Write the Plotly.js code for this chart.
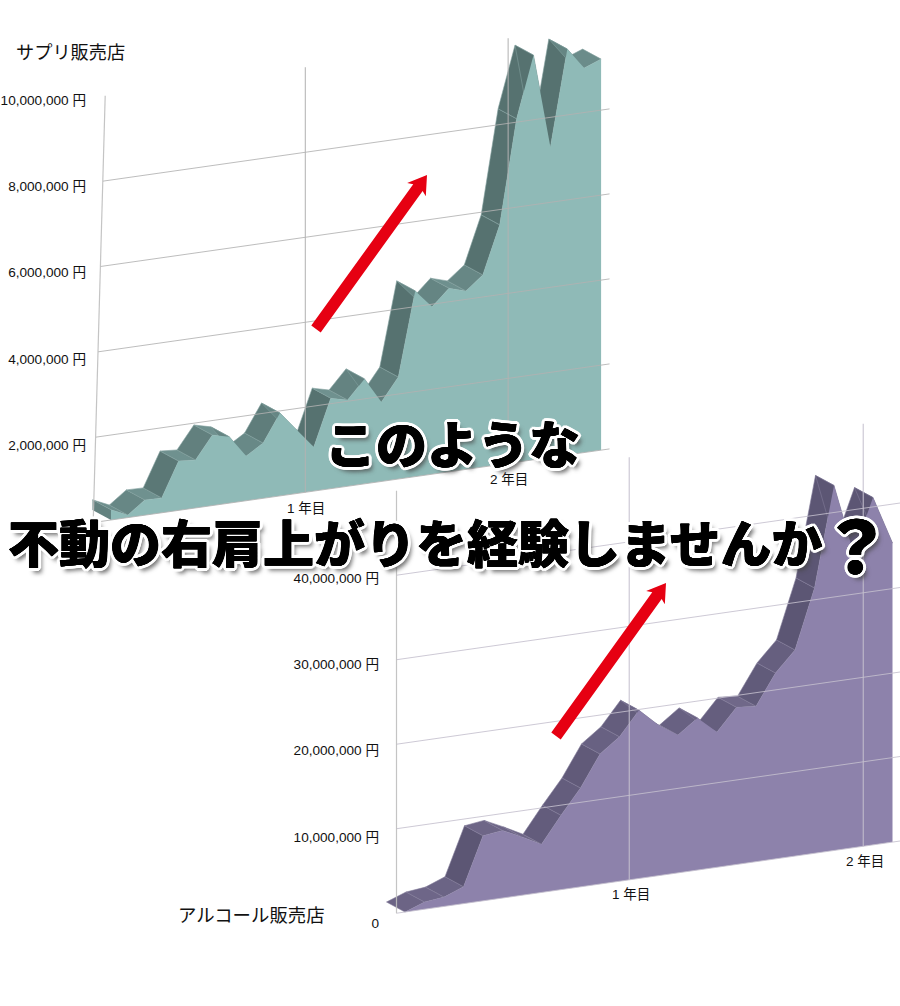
<!DOCTYPE html>
<html><head><meta charset="utf-8">
<script src="https://cdn.plot.ly/plotly-3.0.1.min.js"></script>
<style>html,body{margin:0;padding:0;background:#fff}#c{width:900px;height:1006px}</style>
</head><body><div id="c"></div>
<script>
// DATA
var supplementSales = [240000,60000,360000,350000,1160000,1130000,1660000,1560000,1050000,1300000,1950000,1490000,1040000,2130000,2030000,2470000,1870000,2400000,4370000,3940000,4320000,4200000,4520000,5640000,8080000,9520000,7300000,9550000,9050000,9200000];
var alcoholSales = [0,850000,1100000,2000000,7700000,8000000,6900000,5700000,8800000,11700000,15400000,17100000,19900000,17800000,16300000,18000000,16000000,18600000,18400000,22000000,24400000,31400000,43200000,34900000,41100000,35400000];
var supplementTicks = [2000000,4000000,6000000,8000000,10000000];
var alcoholTicks = [0,10000000,20000000,30000000,40000000];
var supplementGrid = [0,2000000,4000000,6000000,8000000];
var alcoholGrid = [0,10000000,20000000,30000000,40000000];
var yearPositions = [11.5,23.5];
var yearLabels = ['1 年目','2 年目'];
var supplementTitle = 'サプリ販売店';
var alcoholTitle = 'アルコール販売店';
var headlineTop = 'このような';
var headlineMain = '不動の右肩上がりを経験しませんか';
var headlineMark = '？';

var W=900,H=1006;
var traces=[],annos=[],shapes=[];
var jpFont='"Liberation Sans","Noto Sans CJK JP",sans-serif';

function mix(a,b,t){return 'rgb('+a.map(function(c,k){return Math.round(c+(b[k]-c)*t)}).join(',')+')';}

function buildChart(o){
  var p=o.pxPerYen, skew=o.slope/p, di=-18.5/o.dx, dY=10/p;
  var xa=o.xa, ya=o.ya;
  function Y(i,v){return v+skew*i;}
  function add(t){t.xaxis=xa;t.yaxis=ya;t.hoverinfo='skip';t.showlegend=false;traces.push(t);}
  var v=o.values,n=v.length;
  // left side face
  add({x:[di,0,0,di,di],y:[Y(0,v[0])+dY,Y(0,v[0]),Y(0,0),Y(0,0)+dY,Y(0,v[0])+dY],
       mode:'lines',fill:'toself',fillcolor:mix(o.flat,o.steep,.5),line:{width:0}});
  // depth bands
  for(var i=0;i<n-1;i++){
    var a=Y(i,v[i]),b=Y(i+1,v[i+1]);
    var pxRise=Math.abs(b-a)*p, t=Math.min(1,pxRise/45);
    add({x:[i,i+1,i+1+di,i+di,i],y:[a,b,b+dY,a+dY,a],mode:'lines',fill:'toself',
         fillcolor:mix(o.flat,o.steep,t),line:{width:.6,color:mix(o.flat,[255,255,255],.12)}});
  }
  // front face
  var fx=[],fy=[];
  for(i=0;i<n;i++){fx.push(i);fy.push(Y(i,v[i]));}
  fx.push(n-1,0,0);fy.push(Y(n-1,0),Y(0,0),Y(0,v[0]));
  add({x:fx,y:fy,mode:'lines',fill:'toself',fillcolor:o.front,line:{width:0}});
  // horizontal grid
  o.grid.forEach(function(g){
    var s=o.leftI(g);
    add({x:[s,o.endI],y:[Y(s,g),Y(o.endI,g)],mode:'lines',line:{width:1,color:o.gridCol}});
  });
  // left axis and year lines
  add({x:[o.leftI(0),o.leftI(o.top)],y:[Y(o.leftI(0),0),Y(o.leftI(o.top),o.top)],mode:'lines',line:{width:1.2,color:'rgba(190,190,190,.9)'}});
  yearPositions.forEach(function(q,k){
    add({x:[q,q],y:[Y(q,0),Y(q,o.top)],mode:'lines',line:{width:1.2,color:o.gridCol}});
    annos.push({xref:xa,yref:ya,x:q+o.labelDx,y:Y(q,0),yshift:-o.labelShift,text:yearLabels[k],showarrow:false,
      font:{family:jpFont,size:13.5,color:'#111'},xanchor:'center',yanchor:'middle'});
  });
  // tick label carrier
  traces.push({x:o.ticks.map(function(){return 0}),y:o.ticks,xaxis:xa,yaxis:o.ya3,mode:'lines',line:{width:0},hoverinfo:'skip',showlegend:false});
}

var ctx=[
 {values:supplementSales,ticks:supplementTicks,grid:supplementGrid,x0:111,dx:16.9,y0:520,slope:2.41,pxPerYen:42.5/1e6,L:87,
  front:'#8fbab7',flat:[112,146,144],steep:[86,114,112],gridCol:'rgba(178,178,178,.85)',endI:29.5,top:1e7,
  leftI:function(v){return (93.2+1.2*v/1e6-111)/16.9;},xa:'x',ya:'y',ya3:'y3',labelDx:0.05,labelShift:16,
  labTop:[1e7,100,2e6,445]},
 {values:alcoholSales,ticks:alcoholTicks,grid:alcoholGrid,x0:405,dx:19.5,y0:912,slope:2.796,pxPerYen:8.45/1e6,L:380,
  front:'#8d82ab',flat:[112,104,138],steep:[92,86,116],gridCol:'rgba(196,192,206,.85)',endI:25.4,top:5e7,
  leftI:function(v){return (396.5-405)/19.5;},xa:'x2',ya:'y2',ya3:'y4',labelDx:0.1,labelShift:15,
  labTop:[4e7,578,0,923]}
];
ctx.forEach(buildChart);

var layout={width:W,height:H,margin:{l:0,r:0,t:0,b:0},paper_bgcolor:'#fff',plot_bgcolor:'rgba(0,0,0,0)',showlegend:false,hovermode:false};
ctx.forEach(function(o,k){
  var sx=k?'xaxis2':'xaxis',sy=k?'yaxis2':'yaxis',sl=k?'yaxis4':'yaxis3';
  layout[sx]={visible:false,domain:[o.L/W,1],range:[(o.L-o.x0)/o.dx,(W-o.x0)/o.dx],anchor:o.ya};
  layout[sy]={visible:false,domain:[0,1],range:[(o.y0-H)/o.pxPerYen,o.y0/o.pxPerYen],anchor:o.xa};
  var lt=o.labTop, q=(lt[3]-lt[1])/(lt[0]-lt[2]);
  var z=lt[1]+lt[0]*q;
  layout[sl]={overlaying:o.ya,anchor:o.xa,side:'left',showgrid:false,zeroline:false,showline:false,ticks:'',
    range:[(z-H)/q,z/q],tickmode:'array',tickvals:o.ticks,
    ticktext:o.ticks.map(function(t){return t===0?'0':t.toString().replace(/\B(?=(\d{3})+$)/g,',')+' 円';}),
    tickfont:{family:jpFont,size:13.6,color:'#111'},automargin:false};
});

function arrow(x1,y1,x2,y2){
  var dx=x2-x1,dy=y2-y1,l=Math.hypot(dx,dy),ux=dx/l,uy=dy/l,nx=-uy,ny=ux;
  var hb=5.8,hw=11.5,hl=18,nt=15.5;
  var pts=[[x1+nx*hb,y1+ny*hb],[x2-ux*nt+nx*hb,y2-uy*nt+ny*hb],[x2-ux*hl+nx*hw,y2-uy*hl+ny*hw],[x2,y2],
           [x2-ux*hl-nx*hw,y2-uy*hl-ny*hw],[x2-ux*nt-nx*hb,y2-uy*nt-ny*hb],[x1-nx*hb,y1-ny*hb]];
  var d=pts.map(function(q,i){return (i?'L':'M')+(q[0]/W)+','+(1-q[1]/H);}).join(' ')+' Z';
  shapes.push({type:'path',xref:'paper',yref:'paper',path:d,fillcolor:'#e60012',line:{width:0},layer:'above'});
}
arrow(316,329,427,175);
arrow(556,736,666,583);
layout.shapes=shapes;

function paperText(px,py,text,size){
  annos.push({xref:'paper',yref:'paper',x:px/W,y:1-py/H,text:text,showarrow:false,xanchor:'left',yanchor:'middle',
    font:{family:jpFont,size:size,color:'#111'}});
}
paperText(14,53,supplementTitle,18.2);
paperText(176,915,alcoholTitle,18.4);

var sh=[];
[[1,0],[-1,0],[0,1],[0,-1]].forEach(function(d){sh.push(d[0]*.4+'px '+d[1]*.4+'px 0 #000');});
for(var a=0;a<16;a++){var r=3.4;sh.push((Math.cos(a*Math.PI/8)*r).toFixed(1)+'px '+(Math.sin(a*Math.PI/8)*r).toFixed(1)+'px 0 #fff');}
sh.push('4px 5px 4px rgba(70,70,70,.75)');
var shadow=sh.join(',');
function headline(px,py,text,size,anchor){
  annos.push({xref:'paper',yref:'paper',x:px/W,y:1-py/H,text:text,showarrow:false,xanchor:anchor,yanchor:'middle',
    font:{family:'"Noto Sans CJK JP",sans-serif',size:size,color:'#000',weight:900,shadow:shadow}});
}
headline(452,442,headlineTop,51,'center');
headline(6,541,headlineMain,51,'left');
headline(856,541,headlineMark,72,'center');
layout.annotations=annos;

Plotly.newPlot('c',traces,layout,{displayModeBar:false,staticPlot:true});
</script></body></html>
